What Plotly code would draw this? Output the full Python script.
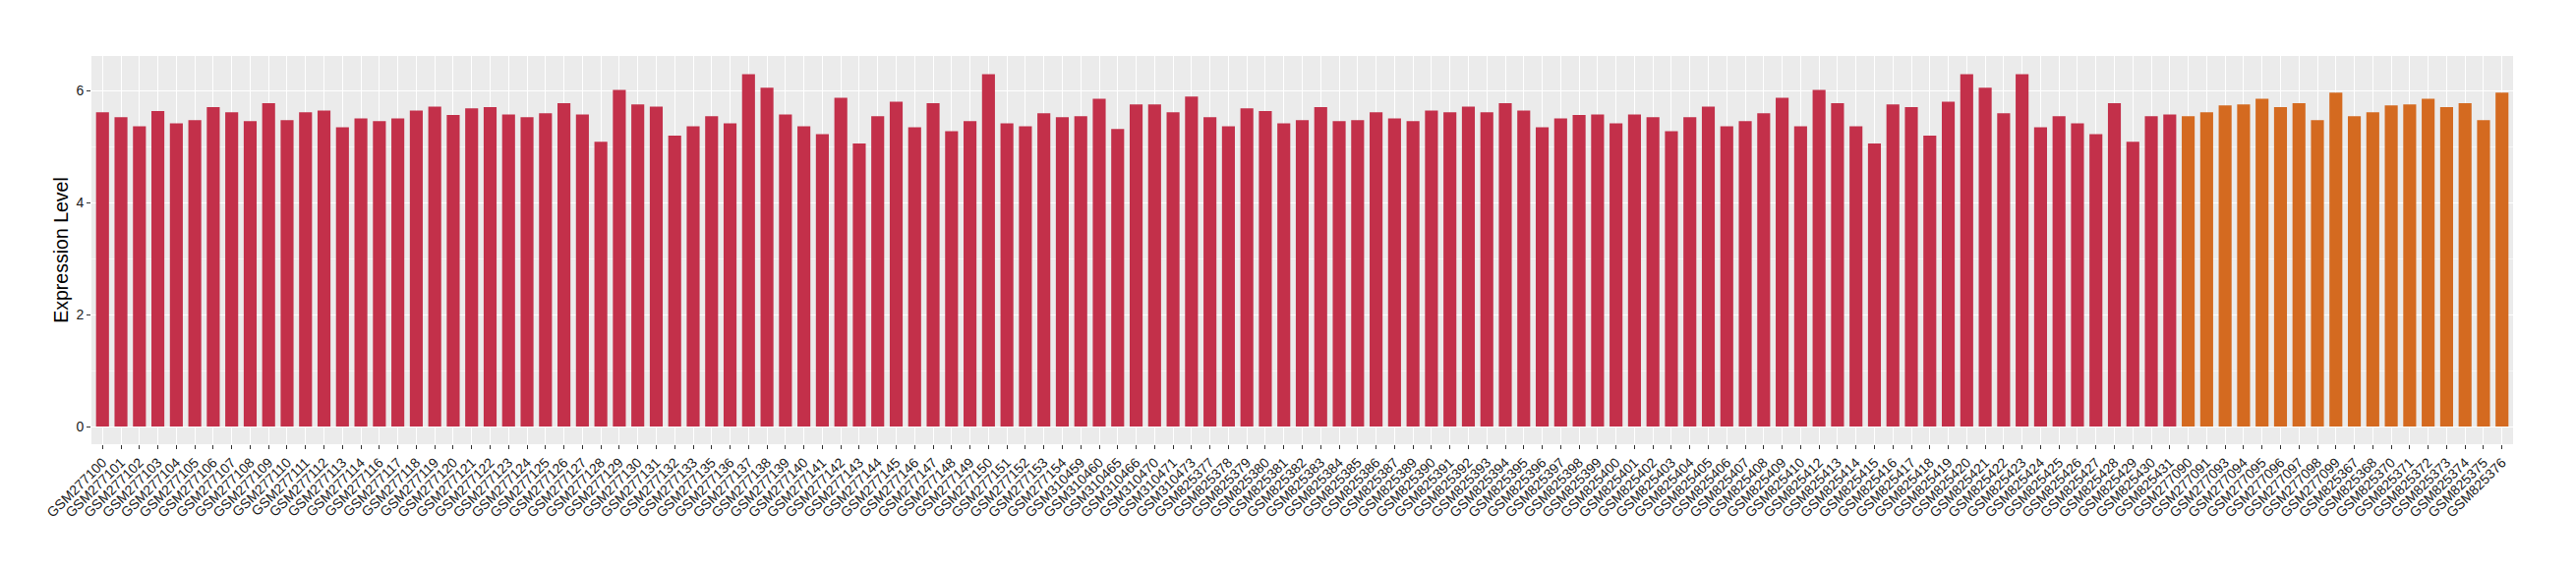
import plotly.graph_objects as go

# ---- data ----
samples_red = [
    "GSM277100", "GSM277101", "GSM277102", "GSM277103", "GSM277104", "GSM277105",
    "GSM277106", "GSM277107", "GSM277108", "GSM277109", "GSM277110", "GSM277111",
    "GSM277112", "GSM277113", "GSM277114", "GSM277116", "GSM277117", "GSM277118",
    "GSM277119", "GSM277120", "GSM277121", "GSM277122", "GSM277123", "GSM277124",
    "GSM277125", "GSM277126", "GSM277127", "GSM277128", "GSM277129", "GSM277130",
    "GSM277131", "GSM277132", "GSM277133", "GSM277135", "GSM277136", "GSM277137",
    "GSM277138", "GSM277139", "GSM277140", "GSM277141", "GSM277142", "GSM277143",
    "GSM277144", "GSM277145", "GSM277146", "GSM277147", "GSM277148", "GSM277149",
    "GSM277150", "GSM277151", "GSM277152", "GSM277153", "GSM277154",
    "GSM310459", "GSM310460", "GSM310465", "GSM310466", "GSM310470", "GSM310471",
    "GSM310473",
    "GSM825377", "GSM825378", "GSM825379", "GSM825380", "GSM825381", "GSM825382",
    "GSM825383", "GSM825384", "GSM825385", "GSM825386", "GSM825387", "GSM825389",
    "GSM825390", "GSM825391", "GSM825392", "GSM825393", "GSM825394", "GSM825395",
    "GSM825396", "GSM825397", "GSM825398", "GSM825399", "GSM825400", "GSM825401",
    "GSM825402", "GSM825403", "GSM825404", "GSM825405", "GSM825406", "GSM825407",
    "GSM825408", "GSM825409", "GSM825410", "GSM825412", "GSM825413", "GSM825414",
    "GSM825415", "GSM825416", "GSM825417", "GSM825418", "GSM825419", "GSM825420",
    "GSM825421", "GSM825422", "GSM825423", "GSM825424", "GSM825425", "GSM825426",
    "GSM825427", "GSM825428", "GSM825429", "GSM825430", "GSM825431",
]
values_red = [
    5.62, 5.53, 5.37, 5.64, 5.42, 5.48,
    5.71, 5.62, 5.46, 5.78, 5.48, 5.62,
    5.65, 5.35, 5.51, 5.46, 5.51, 5.65,
    5.72, 5.57, 5.69, 5.71, 5.58, 5.53,
    5.60, 5.78, 5.58, 5.09, 6.02, 5.76,
    5.72, 5.20, 5.37, 5.55, 5.42, 6.30,
    6.06, 5.58, 5.37, 5.23, 5.88, 5.06,
    5.55, 5.81, 5.35, 5.78, 5.28, 5.46,
    6.30, 5.42, 5.37, 5.60, 5.53,
    5.55, 5.86, 5.32, 5.76, 5.76, 5.62,
    5.90,
    5.53, 5.37, 5.69, 5.64, 5.42, 5.48,
    5.71, 5.46, 5.48, 5.62, 5.51, 5.46,
    5.65, 5.62, 5.72, 5.62, 5.78, 5.65,
    5.35, 5.51, 5.57, 5.58, 5.42, 5.58,
    5.53, 5.28, 5.53, 5.72, 5.37, 5.46,
    5.60, 5.88, 5.37, 6.02, 5.78, 5.37,
    5.06, 5.76, 5.71, 5.20, 5.81, 6.30,
    6.06, 5.60, 6.30, 5.35, 5.55, 5.42,
    5.23, 5.78, 5.09, 5.55, 5.58,
]
samples_orange = [
    "GSM277090", "GSM277091", "GSM277093", "GSM277094", "GSM277095", "GSM277096",
    "GSM277097", "GSM277098", "GSM277099",
    "GSM825367", "GSM825368", "GSM825370", "GSM825371", "GSM825372", "GSM825373",
    "GSM825374", "GSM825375", "GSM825376",
]
values_orange = [
    5.55, 5.62, 5.74, 5.76, 5.86, 5.71,
    5.78, 5.48, 5.97,
    5.55, 5.62, 5.74, 5.76, 5.86, 5.71,
    5.78, 5.48, 5.97,
]
y_ticks = [0, 2, 4, 6]
y_title = "Expression Level"

RED = "#C3304A"
ORANGE = "#D46A20"
FONT = "Liberation Sans, Arial, sans-serif"

all_samples = samples_red + samples_orange
n = len(all_samples)
ymax = max(values_red + values_orange)
pad = 0.05 * ymax

fig = go.Figure()
fig.add_trace(go.Bar(x=samples_red, y=values_red, marker=dict(color=RED, line=dict(width=0)),
                     width=0.7, showlegend=False))
fig.add_trace(go.Bar(x=samples_orange, y=values_orange, marker=dict(color=ORANGE, line=dict(width=0)),
                     width=0.7, showlegend=False))

# page body has an 8px default margin, so the figure is 8px smaller than the window
fig.update_layout(
    width=2612, height=572,
    barmode="overlay",
    paper_bgcolor="white",
    plot_bgcolor="#EBEBEB",
    margin=dict(l=85, r=64, t=49, b=128, autoexpand=False),
    font=dict(family=FONT, color="#1A1A1A"),
)
fig.update_xaxes(
    type="category",
    categoryorder="array", categoryarray=all_samples,
    range=[-0.6, n - 1 + 0.6],
    tickangle=-45,
    tickfont=dict(size=14, color="#1A1A1A", family=FONT),
    ticks="outside", ticklen=4, tickwidth=1, tickcolor="#333333",
    showgrid=True, gridcolor="white", gridwidth=1,
    showline=False, zeroline=False, automargin=False,
)
fig.update_yaxes(
    range=[-pad, ymax + pad + 0.01],
    tickvals=y_ticks,
    tickfont=dict(size=14, color="#1A1A1A", family=FONT),
    ticks="outside", ticklen=4, tickwidth=1, tickcolor="#333333",
    showgrid=True, gridcolor="white", gridwidth=1.2,
    minor=dict(dtick=1, tick0=0, showgrid=True, gridcolor="#F6F6F6", gridwidth=0.6, ticks=""),
    zeroline=False, showline=False, automargin=False,
    title=dict(text=y_title, font=dict(size=19.5, color="black", family=FONT), standoff=2),
)

fig.write_html("out.html")
